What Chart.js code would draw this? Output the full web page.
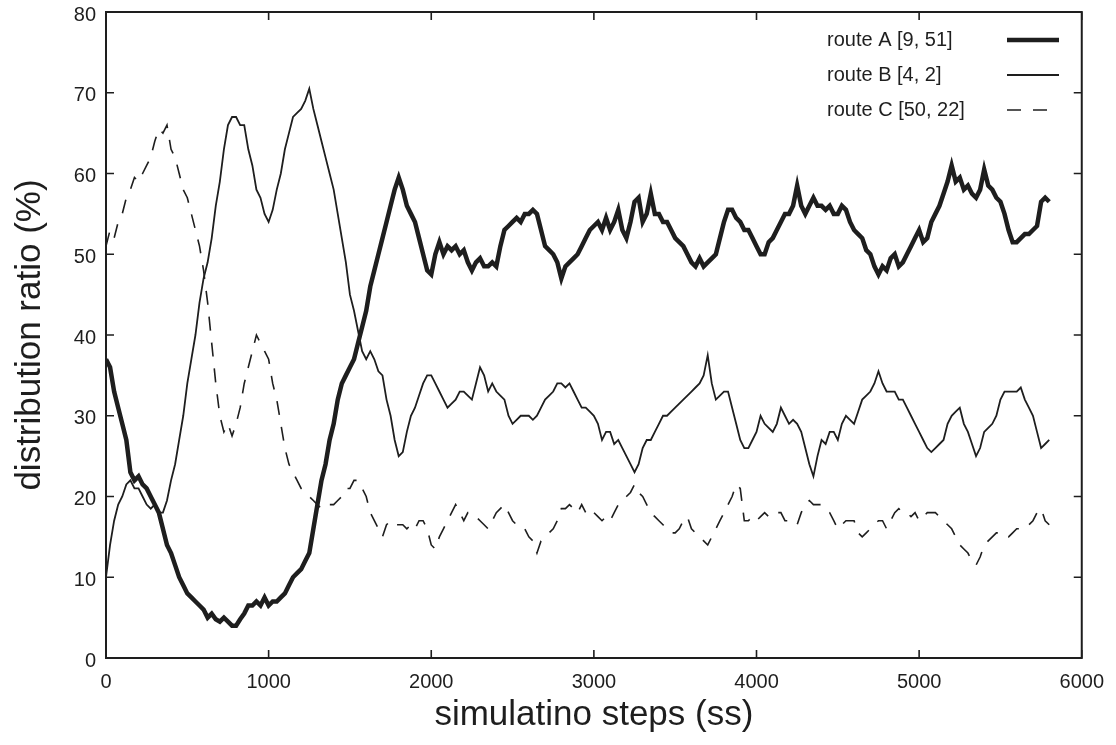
<!DOCTYPE html>
<html>
<head>
<meta charset="utf-8">
<script src="https://cdn.jsdelivr.net/npm/chart.js@4"></script>
<style>
  html, body { margin: 0; padding: 0; background: #fff; }
  #wrap { width: 1116px; height: 745px; }
</style>
</head>
<body>
<div id="wrap"><canvas id="distChart" width="1116" height="745"></canvas></div>
<script>
// simulation steps, sampled every 25 ss (one row = 200 ss)
var steps = [
  0, 25, 50, 75, 100, 125, 150, 175,
  200, 225, 250, 275, 300, 325, 350, 375,
  400, 425, 450, 475, 500, 525, 550, 575,
  600, 625, 650, 675, 700, 725, 750, 775,
  800, 825, 850, 875, 900, 925, 950, 975,
  1000, 1025, 1050, 1075, 1100, 1125, 1150, 1175,
  1200, 1225, 1250, 1275, 1300, 1325, 1350, 1375,
  1400, 1425, 1450, 1475, 1500, 1525, 1550, 1575,
  1600, 1625, 1650, 1675, 1700, 1725, 1750, 1775,
  1800, 1825, 1850, 1875, 1900, 1925, 1950, 1975,
  2000, 2025, 2050, 2075, 2100, 2125, 2150, 2175,
  2200, 2225, 2250, 2275, 2300, 2325, 2350, 2375,
  2400, 2425, 2450, 2475, 2500, 2525, 2550, 2575,
  2600, 2625, 2650, 2675, 2700, 2725, 2750, 2775,
  2800, 2825, 2850, 2875, 2900, 2925, 2950, 2975,
  3000, 3025, 3050, 3075, 3100, 3125, 3150, 3175,
  3200, 3225, 3250, 3275, 3300, 3325, 3350, 3375,
  3400, 3425, 3450, 3475, 3500, 3525, 3550, 3575,
  3600, 3625, 3650, 3675, 3700, 3725, 3750, 3775,
  3800, 3825, 3850, 3875, 3900, 3925, 3950, 3975,
  4000, 4025, 4050, 4075, 4100, 4125, 4150, 4175,
  4200, 4225, 4250, 4275, 4300, 4325, 4350, 4375,
  4400, 4425, 4450, 4475, 4500, 4525, 4550, 4575,
  4600, 4625, 4650, 4675, 4700, 4725, 4750, 4775,
  4800, 4825, 4850, 4875, 4900, 4925, 4950, 4975,
  5000, 5025, 5050, 5075, 5100, 5125, 5150, 5175,
  5200, 5225, 5250, 5275, 5300, 5325, 5350, 5375,
  5400, 5425, 5450, 5475, 5500, 5525, 5550, 5575,
  5600, 5625, 5650, 5675, 5700, 5725, 5750, 5775,
  5800];

// route A [9, 51]
var routeA = [
  37, 36, 33, 31, 29, 27, 23, 22,
  22.5, 21.5, 21, 20, 19, 18, 16, 14,
  13, 11.5, 10, 9, 8, 7.5, 7, 6.5,
  6, 5, 5.5, 4.8, 4.5, 5, 4.5, 4,
  4, 4.8, 5.5, 6.5, 6.5, 7, 6.5, 7.5,
  6.5, 7, 7, 7.5, 8, 9, 10, 10.5,
  11, 12, 13, 16, 19, 22, 24, 27,
  29, 32, 34, 35, 36, 37, 39, 41,
  43, 46, 48, 50, 52, 54, 56, 58,
  59.5, 58, 56, 55, 54, 52, 50, 48,
  47.5, 50, 51.5, 50, 51, 50.5, 51, 50,
  50.5, 49, 48, 49, 49.5, 48.5, 48.5, 49,
  48.5, 51, 53, 53.5, 54, 54.5, 54, 55,
  55, 55.5, 55, 53, 51, 50.5, 50, 49,
  47, 48.5, 49, 49.5, 50, 51, 52, 53,
  53.5, 54, 53, 54.5, 53, 54, 55.5, 53,
  52, 54, 56.5, 57, 54, 55, 57.5, 55,
  55, 54, 54, 53, 52, 51.5, 51, 50,
  49, 48.5, 49.5, 48.5, 49, 49.5, 50, 52,
  54, 55.5, 55.5, 54.5, 54, 53, 53, 52,
  51, 50, 50, 51.5, 52, 53, 54, 55,
  55, 56, 58.5, 56, 55, 56, 57, 56,
  56, 55.5, 56, 55, 55, 56, 55.5, 54,
  53, 52.5, 52, 50.5, 50, 48.5, 47.5, 48.5,
  48, 49.5, 50, 48.5, 49, 50, 51, 52,
  53, 51.5, 52, 54, 55, 56, 57.5, 59,
  61, 59, 59.5, 58, 58.5, 57.5, 57, 58,
  60.5, 58.5, 58, 57, 56.5, 55, 53, 51.5,
  51.5, 52, 52.5, 52.5, 53, 53.5, 56.5, 57,
  56.5];

// route B [4, 2]
var routeB = [
  10, 14, 17, 19, 20, 21.5, 22, 21,
  21, 20, 19, 18.5, 19, 18, 18, 19.5,
  22, 24, 27, 30, 34, 37, 40, 44,
  47, 49, 52, 56, 59, 63, 66, 67,
  67, 66, 66, 63, 61, 58, 57, 55,
  54, 55.5, 58, 60, 63, 65, 67, 67.5,
  68, 69, 70.5, 68, 66, 64, 62, 60,
  58, 55, 52, 49, 45, 43, 40.5, 38,
  37, 38, 37, 35.5, 35, 32, 30, 27,
  25, 25.5, 28, 30, 31, 32.5, 34, 35,
  35, 34, 33, 32, 31, 31.5, 32, 33,
  33, 32.5, 32, 34, 36, 35, 33, 34,
  33, 32.5, 32, 30, 29, 29.5, 30, 30,
  30, 29.5, 30, 31, 32, 32.5, 33, 34,
  34, 33.5, 34, 33, 32, 31, 31, 30.5,
  30, 29, 27, 28, 28, 26.5, 27, 26,
  25, 24, 23, 24, 26, 27, 27, 28,
  29, 30, 30, 30.5, 31, 31.5, 32, 32.5,
  33, 33.5, 34, 35, 37.5, 34, 32, 32.5,
  33, 33, 31, 29, 27, 26, 26, 27,
  28, 30, 29, 28.5, 28, 29, 31, 30,
  29, 29.5, 29, 28, 26, 24, 22.5, 25,
  27, 26.5, 28, 28, 27, 29, 30, 29.5,
  29, 30.5, 32, 32.5, 33, 34, 35.5, 34,
  33, 33, 33, 32, 32, 31, 30, 29,
  28, 27, 26, 25.5, 26, 26.5, 27, 29,
  30, 30.5, 31, 29, 28, 26.5, 25, 26,
  28, 28.5, 29, 30, 32, 33, 33, 33,
  33, 33.5, 32, 31, 30, 28, 26, 26.5,
  27];

// route C [50, 22]
var routeC = [
  51, 53, 52, 54, 55, 57, 58, 59.5,
  59, 60, 61, 62, 64, 65.5, 65, 66,
  63, 62, 60, 58, 57, 55, 53, 51,
  48, 44, 39, 34, 30, 28, 29, 27.5,
  29, 31, 34, 36, 38, 40, 39, 38,
  37, 34, 32, 29, 26, 24, 23, 22,
  21, 20.5, 20, 19.5, 19, 18.5, 18.5, 19,
  19, 19.5, 20, 21, 21, 22, 22, 21,
  20, 18, 17, 16, 15, 16.5, 17, 16.5,
  16.5, 16.5, 16, 16.5, 16, 17, 17, 16,
  14, 13.5, 15, 16, 17, 18, 19, 18,
  17, 18, 18, 17.5, 17, 16.5, 16, 17,
  18, 18.5, 19, 18, 17, 16.5, 16, 16,
  15, 14.5, 13, 14.5, 15, 15.5, 16, 17,
  18.5, 18.5, 19, 18.5, 18, 19, 18, 18.5,
  18, 17.5, 17, 17.5, 17, 18, 19, 19.5,
  20, 20.5, 21.5, 20.5, 20, 19, 18, 17.5,
  17, 16.5, 16, 15.5, 15.5, 16, 17, 17.5,
  16, 15.5, 15, 14.5, 14, 15, 16, 17,
  18, 19, 20, 21.5, 21, 17, 17, 17.5,
  17, 17.5, 18, 17.5, 17.5, 18, 18, 17,
  17, 16.5, 16.5, 18, 19, 19.5, 19, 19,
  19, 18.5, 18, 17, 16, 16.5, 17, 17,
  17, 15.5, 15, 15.5, 16, 16.5, 17, 17,
  16, 17, 18, 18.5, 18, 18, 17.5, 18,
  17, 17.5, 18, 18, 18, 17.5, 17, 16.5,
  16, 15, 14, 13.5, 13, 12, 11.5, 12.5,
  14, 14.5, 15, 15.5, 15.5, 15, 15, 15.5,
  16, 16, 16, 16.5, 17, 18, 18.5, 17,
  16.5];

var yTicks = [0, 10, 20, 30, 40, 50, 60, 70, 80];
var xTicks = [0, 1000, 2000, 3000, 4000, 5000, 6000];

var ink = '#1e1e1e';
var fontName = '"Liberation Sans", Arial, Helvetica, sans-serif';

function toPoints(values) {
  return values.map(function (v, i) { return { x: steps[i], y: v }; });
}

// frame, inward ticks on all four sides, and the legend inside the top right
var framePlugin = {
  id: 'frame',
  afterDraw: function (chart) {
    var c = chart.ctx;
    var a = chart.chartArea;
    var xs = chart.scales.x, ys = chart.scales.y;
    var tick = 8;
    c.save();
    c.strokeStyle = ink;
    c.lineWidth = 1.6;
    xTicks.forEach(function (t) {
      var px = xs.getPixelForValue(t);
      c.beginPath();
      c.moveTo(px, a.bottom); c.lineTo(px, a.bottom - tick);
      c.moveTo(px, a.top); c.lineTo(px, a.top + tick);
      c.stroke();
    });
    yTicks.forEach(function (t) {
      var py = ys.getPixelForValue(t);
      c.beginPath();
      c.moveTo(a.left, py); c.lineTo(a.left + tick, py);
      c.moveTo(a.right, py); c.lineTo(a.right - tick, py);
      c.stroke();
    });
    c.lineWidth = 2;
    c.strokeRect(a.left, a.top, a.right - a.left, a.bottom - a.top);

    // legend
    c.font = '20px ' + fontName;
    c.fillStyle = ink;
    c.textBaseline = 'middle';
    c.textAlign = 'left';
    var rows = [40, 75, 110];
    chart.data.datasets.forEach(function (ds, i) {
      c.fillText(ds.label, 827, rows[i]);
      c.beginPath();
      c.lineWidth = ds.borderWidth;
      c.setLineDash(ds.borderDash || []);
      c.moveTo(1007, rows[i]); c.lineTo(1059, rows[i]);
      c.stroke();
    });
    c.restore();
  }
};

var ctx = document.getElementById('distChart').getContext('2d');

var distChart = new Chart(ctx, {
  type: 'line',
  data: {
    datasets: [{
      label: 'route A [9, 51]',
      data: toPoints(routeA),
      borderColor: ink,
      borderWidth: 4.5,
      pointRadius: 0,
      tension: 0
    }, {
      label: 'route B [4, 2]',
      data: toPoints(routeB),
      borderColor: ink,
      borderWidth: 1.8,
      pointRadius: 0,
      tension: 0
    }, {
      label: 'route C [50, 22]',
      data: toPoints(routeC),
      borderColor: ink,
      borderWidth: 1.6,
      borderDash: [14, 12],
      pointRadius: 0,
      tension: 0
    }]
  },
  options: {
    responsive: false,
    animation: false,
    layout: { padding: { top: 12, right: 33, left: 0, bottom: 0 } },
    plugins: {
      legend: { display: false },
      tooltip: { enabled: false }
    },
    scales: {
      x: {
        type: 'linear',
        min: 0,
        max: 6000,
        afterBuildTicks: function (scale) {
          scale.ticks = xTicks.map(function (v) { return { value: v }; });
        },
        afterFit: function (scale) { scale.height = 87; },
        grid: { display: false, drawTicks: false },
        border: { display: false },
        ticks: {
          color: ink,
          padding: 12,
          maxRotation: 0,
          font: { family: fontName, size: 20 },
          callback: function (v) { return String(v); }
        },
        title: {
          display: true,
          text: 'simulatino steps (ss)',
          color: ink,
          padding: { top: 0, bottom: 9 },
          font: { family: fontName, size: 35 }
        }
      },
      y: {
        min: 0,
        max: 80,
        afterBuildTicks: function (scale) {
          scale.ticks = yTicks.map(function (v) { return { value: v }; });
        },
        afterFit: function (scale) {
          scale.width = 106;
          scale.paddingTop = 0;
          scale.paddingBottom = 0;
        },
        grid: { display: false, drawTicks: false },
        border: { display: false },
        ticks: { color: ink, padding: 10, labelOffset: 3, font: { family: fontName, size: 20 } },
        title: {
          display: true,
          text: 'distribution ratio (%)',
          color: ink,
          padding: { top: 9, bottom: 0 },
          font: { family: fontName, size: 35 }
        }
      }
    }
  },
  plugins: [framePlugin]
});
</script>
</body>
</html>
